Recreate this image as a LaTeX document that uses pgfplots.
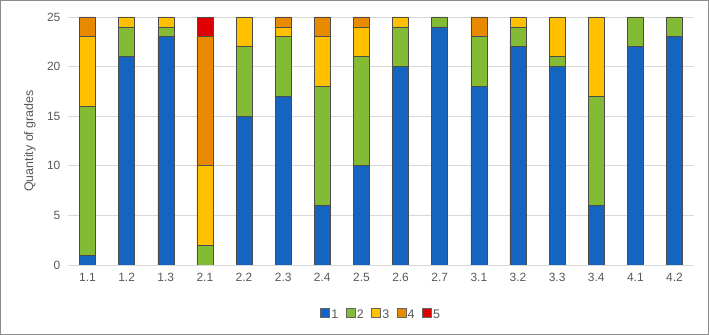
\documentclass[border=0pt]{standalone}
\usepackage{pgfplots}
\pgfplotsset{compat=1.18}
\usepackage{pgfplotstable}
\usepackage{fontspec}
\setmainfont{Liberation Sans}
\definecolor{c1}{RGB}{21,101,192}
\definecolor{c2}{RGB}{131,188,52}
\definecolor{c3}{RGB}{255,192,0}
\definecolor{c4}{RGB}{232,138,0}
\definecolor{c5}{RGB}{222,0,0}
\definecolor{txt}{RGB}{89,89,89}
\definecolor{gridc}{RGB}{217,217,217}
\pgfplotstableread{
x g1 g2 g3 g4 g5
0 1 15 7 2 0
1 21 3 1 0 0
2 23 1 1 0 0
3 0 2 8 13 2
4 15 7 3 0 0
5 17 6 1 1 0
6 6 12 5 2 0
7 10 11 3 1 0
8 20 4 1 0 0
9 24 1 0 0 0
10 18 5 0 2 0
11 22 2 1 0 0
12 20 1 4 0 0
13 6 11 8 0 0
14 22 3 0 0 0
15 23 2 0 0 0
}\data
\begin{document}
\begin{tikzpicture}[x=1bp,y=1bp]
\draw[draw={rgb,255:red,140;green,140;blue,140}, line width=0.8bp] (0.5,0.5) rectangle (708.5,334.5);
\begin{axis}[
  at={(68bp,70bp)}, anchor=south west,
  scale only axis, width=626bp, height=248bp,
  ybar stacked, bar width=16bp,
  xmin=-0.5, xmax=15.5, ymin=0, ymax=25,
  ytick={0,5,10,15,20,25},
  xtick={0,...,15},
  xticklabels={1.1,1.2,1.3,2.1,2.2,2.3,2.4,2.5,2.6,2.7,3.1,3.2,3.3,3.4,4.1,4.2},
  major tick length=0pt,
  axis x line*=bottom, axis y line*=left,
  x axis line style={draw=gridc, line width=0.8bp, -},
  y axis line style={draw=none, -},
  ymajorgrids, grid style={draw=gridc, line width=0.8bp},
  ticklabel style={font=\fontsize{12}{14}\selectfont, text=txt},
  /pgf/number format/assume math mode=true,
  yticklabel style={xshift=-4bp},
  xticklabel style={yshift=-5bp},
  ylabel={Quantity of grades},
  every axis y label/.style={at={(axis description cs:-0.0607,0.5)}, rotate=90, anchor=center,
    font=\fontsize{12.5}{14}\selectfont, text=txt},
  legend style={at={(0.5,-0.2)}, anchor=center, draw=none, legend columns=-1,
    font=\fontsize{12.5}{14}\selectfont, text=txt,
    /tikz/every odd column/.append style={column sep=0bp},
    /tikz/every even column/.append style={column sep=6bp},
    /tikz/every node/.append style={inner xsep=1.5bp}},
  legend image code/.code={\draw[#1, draw=black!60] (0bp,-2.5bp) rectangle (9bp,6.5bp);},
  every axis plot/.append style={draw=black!70, line width=0.5bp},
]
\addplot[fill=c1] table[x=x,y=g1]{\data};
\addplot[fill=c2] table[x=x,y=g2]{\data};
\addplot[fill=c3] table[x=x,y=g3]{\data};
\addplot[fill=c4] table[x=x,y=g4]{\data};
\addplot[fill=c5] table[x=x,y=g5]{\data};
\legend{1,2,3,4,5}
\end{axis}
\end{tikzpicture}
\end{document}
